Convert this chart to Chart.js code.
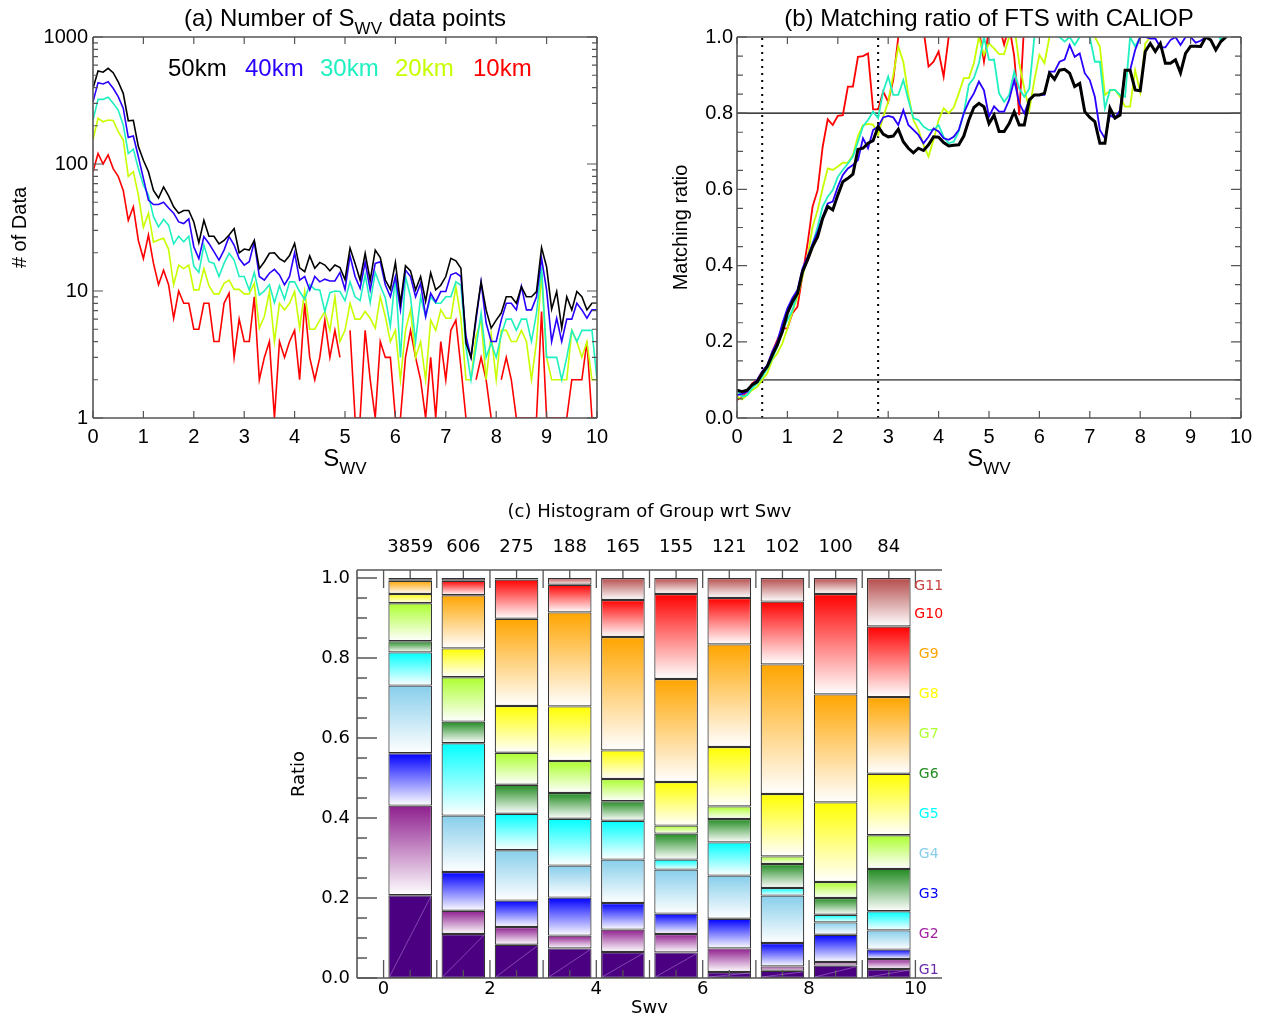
<!DOCTYPE html>
<html>
<head>
<meta charset="utf-8">
<script src="https://cdn.jsdelivr.net/npm/chart.js@4.4.1/dist/chart.umd.min.js"></script>
<style>
    body { margin: 0; width: 1263px; height: 1021px; position: relative; overflow: hidden; background: #fff;
           font-family: "Liberation Sans", Arial, sans-serif; }
    canvas { position: absolute; }
    .txt { position: absolute; white-space: nowrap; color: #000; }
    .ttl { font-size: 24px; line-height: 28px; text-align: center; }
    .sub { font-size: 17px; position: relative; top: 8px; }
    .leg { font-size: 24px; line-height: 28px; }
    .ttl-c { font-family: "DejaVu Sans", sans-serif; font-size: 18px; line-height: 22px; text-align: center; }
</style>
</head>
<body>

<canvas id="countChart" width="620" height="480" style="left:0;top:0"></canvas>
<canvas id="ratioChart" width="623" height="480" style="left:640px;top:0"></canvas>
<canvas id="groupChart" width="720" height="531" style="left:260px;top:490px"></canvas>

<div class="txt ttl" style="left:93px;width:504px;top:4px">(a) Number of S<span class="sub">WV</span> data points</div>
<div class="txt ttl" style="left:737px;width:504px;top:4px">(b) Matching ratio of FTS with CALIOP</div>
<div class="txt ttl" style="left:93px;width:504px;top:444px">S<span class="sub">WV</span></div>
<div class="txt ttl" style="left:737px;width:504px;top:444px">S<span class="sub">WV</span></div>
<div class="txt leg" style="left:168px;top:54px;color:#000">50km</div>
<div class="txt leg" style="left:245px;top:54px;color:#2800ff">40km</div>
<div class="txt leg" style="left:320px;top:54px;color:#20f0c0">30km</div>
<div class="txt leg" style="left:395px;top:54px;color:#c8ff00">20km</div>
<div class="txt leg" style="left:473px;top:54px;color:#ff0000">10km</div>
<div class="txt ttl-c" style="left:357px;width:585px;top:500px">(c) Histogram of Group wrt Swv</div>

<script>
// ---- panels (a) and (b): S_wv bins ----
const swvBins = [0.0, 0.1, 0.2, 0.3, 0.4, 0.5, 0.6, 0.7, 0.8, 0.9,
    1.0, 1.1, 1.2, 1.3, 1.4, 1.5, 1.6, 1.7, 1.8, 1.9,
    2.0, 2.1, 2.2, 2.3, 2.4, 2.5, 2.6, 2.7, 2.8, 2.9,
    3.0, 3.1, 3.2, 3.3, 3.4, 3.5, 3.6, 3.7, 3.8, 3.9,
    4.0, 4.1, 4.2, 4.3, 4.4, 4.5, 4.6, 4.7, 4.8, 4.9,
    5.0, 5.1, 5.2, 5.3, 5.4, 5.5, 5.6, 5.7, 5.8, 5.9,
    6.0, 6.1, 6.2, 6.3, 6.4, 6.5, 6.6, 6.7, 6.8, 6.9,
    7.0, 7.1, 7.2, 7.3, 7.4, 7.5, 7.6, 7.7, 7.8, 7.9,
    8.0, 8.1, 8.2, 8.3, 8.4, 8.5, 8.6, 8.7, 8.8, 8.9,
    9.0, 9.1, 9.2, 9.3, 9.4, 9.5, 9.6, 9.7, 9.8, 9.9,
    10.0];

// (a) number of data points
const count50 = [395, 540, 528, 567, 524, 444, 360, 219, 221, 137,
    107, 87, 62, 54, 66, 56, 46, 41, 43, 43,
    35, 24, 36, 27, 27, 23.5, 25, 27.6, 31, 20,
    21.4, 21, 25, 15, 17, 19.8, 20, 18, 17, 19,
    23.7, 15.2, 14.2, 18.9, 15.1, 16.8, 16, 14.4, 16, 15.3,
    12.3, 21.8, 16.5, 12.2, 19.8, 12.1, 21, 18.3, 12.2, 10.3,
    16.8, 8, 15.8, 14.4, 10.2, 13, 8.3, 13.9, 10.2, 11.1,
    13, 18.1, 17.3, 15.1, 3.9, 3.0, 6.3, 11.8, 7.1, 5.1,
    5.9, 6.7, 9, 9, 8, 10.8, 9, 9, 9.9, 22,
    15.5, 7.2, 9.9, 5.1, 9, 7.1, 9.9, 9, 7.1, 8,
    8];
const count40 = [309, 437, 427, 444, 395, 339, 275, 162, 166, 114,
    77, 52, 48, 48, 50, 45, 41, 35, 34, 37,
    22.3, 18, 26.8, 23.7, 20.4, 17.5, 21, 26.8, 23, 18,
    16, 17, 24.4, 13, 12.2, 13.8, 14.8, 13.4, 11.2, 13,
    20, 12.2, 13, 10.2, 13, 11.8, 12.4, 12, 12, 14,
    10.3, 18.9, 13, 10.5, 16.9, 10.2, 16.5, 17, 11.2, 9,
    13, 7.1, 14.6, 13, 9, 11.5, 6.3, 9.6, 8.2, 9.9,
    9.9, 13.4, 13.9, 13, 4.4, 3, 5.9, 11.8, 5.6, 4,
    4, 5.9, 8, 8, 7.1, 10.9, 7.1, 7.1, 9, 18.1,
    10.2, 4, 6.1, 4, 6, 6, 8, 7.1, 6.1, 7.1,
    7.1];
const count30 = [222, 323, 323, 335, 301, 266, 203, 121, 131, 92,
    68, 57, 38.5, 32, 36.7, 33, 23.5, 27, 24.4, 27,
    15.7, 14, 23, 17, 16.5, 13, 16.5, 19.8, 17.5, 13,
    13, 10.2, 14, 9.3, 10, 11.2, 8.1, 11, 8.6, 11.8,
    11.8, 9.9, 8.6, 11.2, 10.3, 10.2, 6.9, 9.7, 10, 9.9,
    8.4, 11.8, 9, 8.4, 13.4, 8.1, 14, 11, 8.8, 5.3,
    13, 3, 13, 9, 4, 9, 6.3, 9, 8, 8,
    9, 9, 11.8, 11.1, 3.6, 2, 3.6, 6.7, 3, 3.9,
    3, 4.5, 6, 6, 4.9, 6, 6, 4, 6.7, 15.5,
    3, 3, 3, 2, 3, 4.9, 4, 4.9, 4.9, 4.9,
    2];
const count20 = [156, 229, 215, 222, 220, 180, 155, 80, 87, 57,
    31.8, 41, 24.3, 25.2, 26, 21.3, 11.2, 16, 15, 16,
    10.2, 10.2, 15, 11, 9.5, 9.5, 11.5, 12.2, 10.3, 10.3,
    9.5, 9.5, 11.5, 5.1, 6.3, 9.9, 4, 8, 7.1, 8,
    9.9, 5.1, 9.9, 5, 5, 5.9, 6.9, 4.9, 9, 4,
    4.9, 8, 6, 6, 6.9, 6.1, 5.1, 9, 6.3, 4,
    4.9, 2, 4.9, 7.1, 3, 4, 2, 5.9, 4.9, 7.1,
    6.1, 6.1, 10.8, 6.1, 2, 2, 4.4, 5.9, 2, 4.6,
    2, 4.9, 4.9, 4, 4, 4.9, 4, 2, 4, 13.5,
    3, 2, 2, 2, 2, 4.9, 4, 3, 4, 2,
    2];
const count10 = [87, 121, 100, 118, 92, 80, 62, 36, 46, 25,
    18, 27.6, 16.5, 11.2, 14.6, 11.2, 6.1, 10, 8, 8,
    5, 5, 8, 8, 4, 4, 8, 9.6, 3, 6,
    4, 4, 9, 2, 3, 4, 1, 4, 3, 4,
    4.9, 2, 8, 3, 2, 3, 5.9, 3, 4.9, 3,
    null, 4.9, 1, 1, 4.9, 2, 1, 4, 3, 3,
    1, 1, 3, 4.9, 3, 2, 1, 3, 1, 4,
    2, 4.9, 5.9, 2.5, 1, null, 2, 3, 2, 1,
    null, 2, 3, 2, 1, 1, 1, 1, 1, 6.9,
    1, 1, 1, 1, 1, 2, 2, 2, 4, 1,
    1];

// (b) matching ratio
const ratio50 = [0.073, 0.069, 0.073, 0.087, 0.095, 0.117, 0.135, 0.165, 0.192, 0.227,
    0.275, 0.305, 0.327, 0.384, 0.415, 0.45, 0.476, 0.524, 0.555, 0.546,
    0.585, 0.62, 0.629, 0.64, 0.705, 0.708, 0.721, 0.728, 0.765, 0.745,
    0.738, 0.74, 0.758, 0.725, 0.708, 0.696, 0.708, 0.702, 0.717, 0.738,
    0.737, 0.723, 0.714, 0.716, 0.717, 0.74, 0.782, 0.815, 0.826, 0.817,
    0.773, 0.795, 0.752, 0.752, 0.773, 0.804, 0.769, 0.769, 0.835, 0.848,
    0.848, 0.852, 0.905, 0.889, 0.913, 0.915, 0.905, 0.87, 0.878, 0.804,
    0.789, 0.778, 0.721, 0.721, 0.813, 0.787, 0.795, 0.913, 0.913, 0.861,
    0.859, 0.962, 0.983, 0.962, 0.983, 0.931, 0.931, 0.94, 0.906, 0.957,
    0.976, 0.976, 0.975, 1.0, 0.992, 0.966, 0.988, 1.0, 1.02, 1.03,
    1.03];
const ratio40 = [0.06, 0.063, 0.069, 0.087, 0.1, 0.122, 0.139, 0.174, 0.2, 0.248,
    0.288, 0.315, 0.336, 0.393, 0.423, 0.458, 0.489, 0.528, 0.563, 0.568,
    0.607, 0.638, 0.655, 0.664, 0.677, 0.734, 0.708, 0.756, 0.765, 0.789,
    0.793, 0.789, 0.769, 0.808, 0.769, 0.756, 0.743, 0.721, 0.738, 0.76,
    0.752, 0.734, 0.73, 0.738, 0.756, 0.8, 0.83, 0.852, 0.883, 0.86,
    0.791, 0.818, 0.804, 0.804, 0.835, 0.887, 0.826, 0.8, 0.835, 0.848,
    0.848, 0.848, 0.909, 0.909, 0.935, 0.941, 0.979, 0.948, 0.957, 0.905,
    0.887, 0.843, 0.756, 0.734, 0.795, 0.787, 0.808, 0.913, 0.913, 0.966,
    1.0, 1.0, 0.996, 0.996, 0.973, 0.973, 0.992, 1.0, 0.979, 1.0,
    1.0, 0.985, 0.99, 1.0, 1.02, 1.03, 1.03, 1.03, 1.03, 1.03,
    1.03];
const ratio30 = [0.073, 0.056, 0.06, 0.078, 0.091, 0.108, 0.13, 0.157, 0.187, 0.231,
    0.257, 0.283, 0.327, 0.38, 0.415, 0.458, 0.502, 0.555, 0.581, 0.598,
    0.633, 0.651, 0.668, 0.686, 0.725, 0.765, 0.782, 0.804, 0.787, 0.857,
    0.896, 0.848, 0.848, 0.887, 0.835, 0.787, 0.782, 0.765, 0.756, 0.756,
    0.769, 0.738, 0.721, 0.725, 0.752, 0.8, 0.875, 0.892, 0.931, 1.0,
    0.94, 0.941, 0.852, 0.83, 0.848, 0.909, 0.865, 0.843, 0.865, 1.0,
    1.02, 1.03, 1.02, 1.01, 1.0, 0.988, 1.0, 0.979, 1.0, 1.02,
    1.0, 0.935, 0.935, 0.813, 0.861, 0.861, 0.848, 0.843, 1.0, 0.975,
    1.0, 1.02, 1.03, 1.03, 1.03, 1.03, 1.03, 1.03, 1.03, 1.03,
    1.03, 1.03, 1.03, 1.03, 1.03, 1.03, 0.99, 1.03, 1.03, 1.03,
    1.03];
const ratio20 = [0.056, 0.049, 0.06, 0.073, 0.082, 0.1, 0.117, 0.152, 0.17, 0.196,
    0.235, 0.279, 0.318, 0.371, 0.423, 0.502, 0.546, 0.603, 0.655, 0.651,
    0.66, 0.67, 0.67, 0.69, 0.74, 0.769, 0.772, 0.77, 0.743, 0.79,
    0.83, 0.9, 0.975, 0.935, 0.848, 0.782, 0.756, 0.717, 0.686, 0.73,
    0.782, 0.813, 0.8, 0.815, 0.852, 0.892, 0.892, 0.931, 1.0, 0.953,
    0.983, 0.97, 0.955, 0.955, 1.0, 1.03, 0.931, 0.865, 0.808, 0.887,
    0.953, 0.931, 1.0, 1.03, 1.03, 1.02, 1.03, 1.03, 1.03, 1.02,
    1.01, 1.0, 0.975, 0.848, 0.859, 0.861, 0.843, 0.817, 0.817, 0.913,
    0.855, 0.983, 1.0, 1.03, 1.03, 1.03, 1.03, 1.03, 1.03, 1.03,
    1.03, 1.03, 1.03, 1.03, 1.03, 1.03, 1.03, 1.03, 1.03, 1.03,
    1.03];
const ratio10 = [0.047, 0.056, 0.069, 0.091, 0.1, 0.122, 0.135, 0.174, 0.205, 0.235,
    0.235, 0.275, 0.292, 0.375, 0.458, 0.555, 0.598, 0.712, 0.784, 0.769,
    0.793, 0.795, 0.87, 0.87, 0.948, 0.95, 0.957, 0.81, 0.81, 0.857,
    0.83, 0.887, 1.0, 1.08, 1.1, 1.1, 1.08, 1.02, 0.922, 0.935,
    0.962, 0.896, 1.0, 1.06, 1.08, 1.08, 1.06, 1.04, 1.02, 0.935,
    1.02, 1.04, 1.03, 0.98, 1.03, 0.95, 0.795, 1.04, 1.05, 1.05,
    1.05, 1.05, 1.05, 1.05, 1.05, 1.05, 1.05, 1.05, 1.05, 1.05,
    1.05, 1.05, 1.05, 1.05, 1.05, 1.05, 1.05, 1.05, 1.05, 1.05,
    1.05, 1.05, 1.05, 1.05, 1.05, 1.05, 1.05, 1.05, 1.05, 1.05,
    1.05, 1.05, 1.05, 1.05, 1.05, 1.05, 1.05, 1.05, 1.05, 1.05,
    1.05];

const resolutions = ["50km", "40km", "30km", "20km", "10km"];
const lineColors = ["#000000", "#2800ff", "#20f0c0", "#c8ff00", "#ff0000"];
const xTicksSwv = [0, 1, 2, 3, 4, 5, 6, 7, 8, 9, 10];
const yTicksCount = [1, 10, 100, 1000];
const yTicksRatio = [0, 0.2, 0.4, 0.6, 0.8, 1.0];
const ratioLevels = [0.1, 0.8];
const swvCuts = [0.5, 2.8];

// ---- panel (c): group shares per S_wv bin ----
const binCenters = [0.5, 1.5, 2.5, 3.5, 4.5, 5.5, 6.5, 7.5, 8.5, 9.5];
const pairCounts = [3859, 606, 275, 188, 165, 155, 121, 102, 100, 84];
const G1 = [0.207, 0.110, 0.083, 0.074, 0.065, 0.064, 0.015, 0.018, 0.031, 0.0225];
const G2 = [0.224, 0.058, 0.0445, 0.032, 0.056, 0.046, 0.059, 0.011, 0.009, 0.025];
const G3 = [0.131, 0.097, 0.066, 0.095, 0.0665, 0.051, 0.074, 0.0585, 0.068, 0.0235];
const G4 = [0.169, 0.141, 0.126, 0.080, 0.1085, 0.110, 0.108, 0.1185, 0.031, 0.048];
const G5 = [0.083, 0.181, 0.091, 0.117, 0.097, 0.025, 0.083, 0.019, 0.019, 0.0477];
const G6 = [0.028, 0.054, 0.0725, 0.0645, 0.049, 0.065, 0.0585, 0.060, 0.042, 0.106];
const G7 = [0.095, 0.111, 0.080, 0.080, 0.0555, 0.020, 0.0315, 0.019, 0.040, 0.084];
const G8 = [0.023, 0.072, 0.117, 0.1365, 0.0715, 0.109, 0.1485, 0.156, 0.199, 0.154];
const G9 = [0.033, 0.133, 0.218, 0.235, 0.2835, 0.2575, 0.2565, 0.324, 0.270, 0.1915];
const G10 = [0.004, 0.036, 0.098, 0.069, 0.0925, 0.2125, 0.116, 0.157, 0.251, 0.1765];
const G11 = [0.003, 0.007, 0.004, 0.017, 0.055, 0.040, 0.050, 0.059, 0.040, 0.121];
const groupShares = [G1, G2, G3, G4, G5, G6, G7, G8, G9, G10, G11];
const groupNames = ["G1", "G2", "G3", "G4", "G5", "G6", "G7", "G8", "G9", "G10", "G11"];
const groupColors = ["#4b0082", "#8e1e8e", "#0000ff", "#87ceeb", "#00ffff", "#228b22",
    "#adff2f", "#ffff00", "#ffa500", "#ff0000", "#b44b4b"];
const groupTextColors = ["#6a2aa8", "#a020a0", "#0000ff", "#87ceeb", "#00ffff", "#228b22",
    "#adff2f", "#ffff00", "#ffa500", "#ff0000", "#c84040"];
const xTicksGroup = [0, 2, 4, 6, 8, 10];
const yTicksGroup = [0, 0.2, 0.4, 0.6, 0.8, 1.0];

Chart.defaults.animation = false;
Chart.defaults.font.family = '"Liberation Sans", Arial, sans-serif';
Chart.defaults.color = "#000";

// inward tick marks + frame, IDL style
const frameTicks = {
    id: "frameTicks",
    afterDatasetsDraw(chart, args, o) {
        const { ctx, chartArea: a } = chart;
        const xs = chart.scales.x, ys = chart.scales.y;
        const has = (s) => o.sides.includes(s);
        ctx.save();
        ctx.strokeStyle = o.color;
        ctx.lineWidth = o.tickWidth;
        ctx.beginPath();
        const xMarks = o.xMajor.map((v) => [v, o.xMajorLen]).concat(o.xMinor.map((v) => [v, o.xMinorLen]));
        xMarks.forEach(([v, len]) => {
            const px = xs.getPixelForValue(v);
            if (has("bottom")) { ctx.moveTo(px, a.bottom); ctx.lineTo(px, a.bottom - len); }
            if (has("top")) { ctx.moveTo(px, a.top); ctx.lineTo(px, a.top + len); }
        });
        const yMarks = o.yMajor.map((v) => [v, o.yMajorLen]).concat(o.yMinor.map((v) => [v, o.yMinorLen]));
        yMarks.forEach(([v, len]) => {
            const py = ys.getPixelForValue(v);
            if (has("left")) { ctx.moveTo(a.left, py); ctx.lineTo(a.left + len, py); }
            if (has("right")) { ctx.moveTo(a.right, py); ctx.lineTo(a.right - len, py); }
        });
        ctx.stroke();
        ctx.lineWidth = o.frameWidth;
        ctx.beginPath();
        if (has("top")) { ctx.moveTo(a.left, a.top); ctx.lineTo(a.right, a.top); }
        if (has("bottom")) { ctx.moveTo(a.left, a.bottom); ctx.lineTo(a.right, a.bottom); }
        if (has("left")) { ctx.moveTo(a.left, a.top); ctx.lineTo(a.left, a.bottom); }
        if (has("right")) { ctx.moveTo(a.right, a.top); ctx.lineTo(a.right, a.bottom); }
        ctx.stroke();
        ctx.restore();
    }
};

function fixedTicks(values) {
    return function (scale) {
        scale.ticks = values.map((v) => ({ value: v }));
    };
}

const noGrid = { display: false, drawTicks: false, tickLength: 0 };

// minor tick positions
const logMinor = [];
[1, 10, 100].forEach((d) => { for (let k = 2; k <= 9; k++) logMinor.push(d * k); });
const ratioMinor = [];
for (let k = 1; k < 20; k++) if (k % 4 !== 0) ratioMinor.push(k * 0.05);

// Panel (a)
new Chart(document.getElementById("countChart"), {
    type: "line",
    data: {
        labels: swvBins,
        datasets: [count50, count40, count30, count20, count10].map((vals, i) => ({
            label: resolutions[i],
            data: vals,
            borderColor: lineColors[i],
            borderWidth: 1.6,
            pointRadius: 0,
            tension: 0,
            spanGaps: false
        }))
    },
    options: {
        responsive: false,
        layout: { padding: { top: 37, right: 23, left: 0, bottom: 0 } },
        plugins: {
            legend: { display: false },
            tooltip: { enabled: false },
            frameTicks: {
                sides: ["top", "bottom", "left", "right"], color: "#555", tickWidth: 1.2, frameWidth: 1.6,
                xMajor: xTicksSwv, xMinor: [], xMajorLen: 7, xMinorLen: 0,
                yMajor: yTicksCount, yMinor: logMinor, yMajorLen: 10, yMinorLen: 5
            }
        },
        scales: {
            x: {
                type: "linear", min: 0, max: 10,
                grid: noGrid, border: { display: false },
                afterBuildTicks: fixedTicks(xTicksSwv),
                afterFit: (s) => { s.height = 62; },
                ticks: { autoSkip: false, maxRotation: 0, padding: 7, font: { size: 20 } }
            },
            y: {
                type: "logarithmic", min: 1, max: 1000,
                grid: noGrid, border: { display: false },
                afterBuildTicks: fixedTicks(yTicksCount),
                afterFit: (s) => { s.width = 93; },
                ticks: { padding: 5, font: { size: 20 }, callback: (v) => String(v) },
                title: { display: true, text: "# of Data", font: { size: 20 }, padding: { top: 8, bottom: 0 } }
            }
        }
    },
    plugins: [frameTicks]
});

// Panel (b)
const ratioLines = [ratio50, ratio40, ratio30, ratio20, ratio10].map((vals, i) => ({
    label: resolutions[i],
    data: vals.map((v, j) => ({ x: swvBins[j], y: v })),
    borderColor: lineColors[i],
    borderWidth: i === 0 ? 3 : 1.8,
    pointRadius: 0,
    tension: 0
}));
const levelLines = ratioLevels.map((lv, i) => ({
    label: "level " + lv,
    data: [{ x: 0, y: lv }, { x: 10, y: lv }],
    borderColor: i === 0 ? "#666" : "#000",
    borderWidth: i === 0 ? 1.8 : 1.3,
    pointRadius: 0
}));
const cutLines = swvCuts.map((c) => ({
    label: "cut " + c,
    data: [{ x: c, y: 0 }, { x: c, y: 1.02 }],
    borderColor: "#000",
    borderWidth: 2,
    borderDash: [2, 5],
    pointRadius: 0
}));

new Chart(document.getElementById("ratioChart"), {
    type: "line",
    data: { datasets: ratioLines.concat(levelLines, cutLines) },
    options: {
        responsive: false,
        layout: { padding: { top: 37, right: 22, left: 0, bottom: 0 } },
        plugins: {
            legend: { display: false },
            tooltip: { enabled: false },
            frameTicks: {
                sides: ["top", "bottom", "left", "right"], color: "#555", tickWidth: 1.2, frameWidth: 1.6,
                xMajor: xTicksSwv, xMinor: [], xMajorLen: 7, xMinorLen: 0,
                yMajor: yTicksRatio, yMinor: ratioMinor, yMajorLen: 10, yMinorLen: 6
            }
        },
        scales: {
            x: {
                type: "linear", min: 0, max: 10,
                grid: noGrid, border: { display: false },
                afterBuildTicks: fixedTicks(xTicksSwv),
                afterFit: (s) => { s.height = 62; },
                ticks: { autoSkip: false, maxRotation: 0, padding: 7, font: { size: 20 } }
            },
            y: {
                type: "linear", min: 0, max: 1.0,
                grid: noGrid, border: { display: false },
                afterBuildTicks: fixedTicks(yTicksRatio),
                afterFit: (s) => { s.width = 97; },
                ticks: { padding: 4, font: { size: 20 }, callback: (v) => v.toFixed(1) },
                title: { display: true, text: "Matching ratio", font: { size: 20 }, padding: { top: 29, bottom: 0 } }
            }
        }
    },
    plugins: [frameTicks]
});

// Panel (c)
function segmentFill(c) {
    const g = c.datasetIndex;
    const area = c.chart.chartArea;
    if (c.type !== "data" || !area || g === 0) return groupColors[g];
    const i = c.dataIndex;
    let low = 0;
    for (let k = 0; k < g; k++) low += groupShares[k][i];
    const high = low + groupShares[g][i];
    const ys = c.chart.scales.y;
    const grad = c.chart.ctx.createLinearGradient(0, ys.getPixelForValue(high), 0, ys.getPixelForValue(low));
    grad.addColorStop(0, groupColors[g]);
    grad.addColorStop(1, "#ffffff");
    return grad;
}

const groupDecor = {
    id: "groupDecor",
    afterDatasetsDraw(chart, args, o) {
        const { ctx } = chart;
        const xs = chart.scales.x, ys = chart.scales.y;
        ctx.save();
        // faint diagonal inside the G1 blocks
        ctx.strokeStyle = "rgba(200,160,235,0.55)";
        ctx.lineWidth = 0.8;
        chart.getDatasetMeta(0).data.forEach((bar) => {
            const half = bar.width / 2;
            ctx.beginPath();
            ctx.moveTo(bar.x - half + 1, bar.base - 1);
            ctx.lineTo(bar.x + half - 1, bar.y + 1);
            ctx.stroke();
        });
        ctx.font = '14px "DejaVu Sans", sans-serif';
        ctx.textAlign = "center";
        ctx.textBaseline = "middle";
        groupNames.forEach((name, g) => {
            ctx.fillStyle = groupTextColors[g];
            ctx.fillText(name, xs.getPixelForValue(o.labelX), ys.getPixelForValue(o.labelAt[g]));
        });
        ctx.restore();
    }
};

const groupMinorY = [];
for (let k = 1; k < 20; k++) if (k % 4 !== 0) groupMinorY.push(k * 0.05);
const dejavu = '"DejaVu Sans", sans-serif';

new Chart(document.getElementById("groupChart"), {
    type: "bar",
    data: {
        datasets: groupShares.map((vals, g) => ({
            label: groupNames[g],
            data: vals.map((v, i) => ({ x: binCenters[i], y: v })),
            xAxisID: "x",
            yAxisID: "y",
            backgroundColor: segmentFill,
            borderColor: "#333",
            borderWidth: 1.2,
            borderSkipped: false,
            categoryPercentage: 1.0,
            barPercentage: 0.82
        }))
    },
    options: {
        responsive: false,
        layout: { padding: { top: 0, right: 38, left: 0, bottom: 0 } },
        plugins: {
            legend: { display: false },
            tooltip: { enabled: false },
            frameTicks: {
                sides: ["top", "bottom", "left"], color: "#555", tickWidth: 1.3, frameWidth: 1.6,
                xMajor: xTicksSwv, xMinor: binCenters, xMajorLen: 18, xMinorLen: 8,
                yMajor: yTicksGroup, yMinor: groupMinorY, yMajorLen: 20, yMinorLen: 10
            },
            groupDecor: {
                labelX: 10.25,
                labelAt: [0.02, 0.11, 0.21, 0.31, 0.41, 0.51, 0.61, 0.71, 0.81, 0.91, 0.98]
            }
        },
        scales: {
            x: {
                type: "linear", min: -0.5, max: 10.5, offset: false, stacked: true,
                grid: noGrid, border: { display: false },
                afterBuildTicks: fixedTicks(xTicksGroup),
                afterFit: (s) => { s.height = 43; },
                ticks: { autoSkip: false, maxRotation: 0, padding: 1, font: { size: 18, family: dejavu } },
                title: { display: true, text: "Swv", padding: { top: 0, bottom: 2 }, font: { size: 18, family: dejavu } }
            },
            xTop: {
                type: "linear", position: "top", min: -0.5, max: 10.5, offset: false,
                grid: noGrid, border: { display: false },
                afterBuildTicks: fixedTicks(binCenters),
                afterFit: (s) => { s.height = 80; },
                ticks: { autoSkip: false, maxRotation: 0, padding: 12, font: { size: 18, family: dejavu },
                         callback: (v, i) => String(pairCounts[i]) }
            },
            y: {
                type: "linear", min: 0, max: 1.02, stacked: true,
                grid: noGrid, border: { display: false },
                afterBuildTicks: fixedTicks(yTicksGroup),
                afterFit: (s) => { s.width = 97; },
                ticks: { padding: 7, font: { size: 18, family: dejavu }, callback: (v) => v.toFixed(1) },
                title: { display: true, text: "Ratio", padding: { top: 29, bottom: 0 }, font: { size: 18, family: dejavu } }
            }
        }
    },
    plugins: [frameTicks, groupDecor]
});
</script>
</body>
</html>
